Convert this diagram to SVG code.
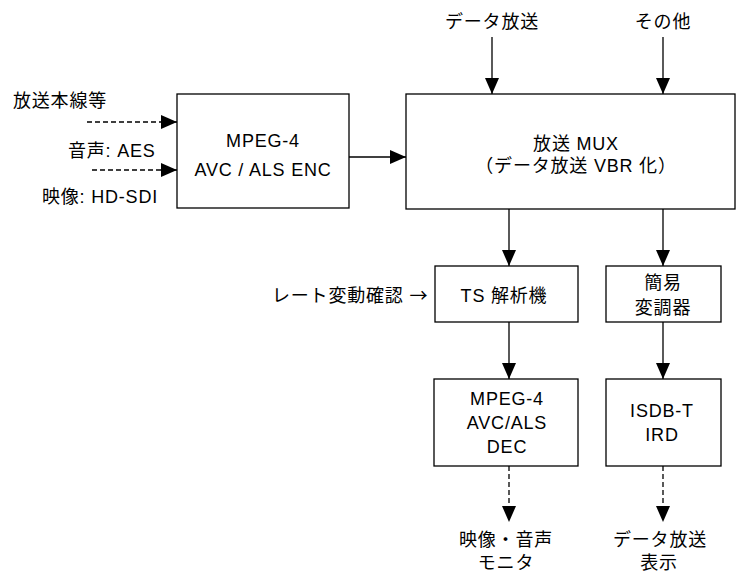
<svg xmlns="http://www.w3.org/2000/svg" width="739" height="572" viewBox="0 0 739 572">
<style>
text{font-family:"Liberation Sans","Noto Sans CJK JP",sans-serif;font-size:18px;letter-spacing:0.8px;fill:#000}
.c{text-anchor:middle}
.box{fill:#fff;stroke:#000;stroke-width:1.3}
.ln{fill:none;stroke:#000;stroke-width:1.3}
.d{stroke-dasharray:5 3}
.ar{font-family:"Noto Sans CJK JP",sans-serif}
</style>
<defs>
<marker id="ah" markerUnits="userSpaceOnUse" markerWidth="16" markerHeight="14" refX="16" refY="7" orient="auto">
<path d="M0,0 L16,7 L0,14 Z" fill="#000"/>
</marker>
</defs>
<g id="connectors">
<line class="ln d" x1="87" y1="122" x2="177" y2="122" marker-end="url(#ah)"/>
<line class="ln d" x1="92" y1="170" x2="177" y2="170" marker-end="url(#ah)"/>
<line class="ln" x1="349" y1="157" x2="406" y2="157" marker-end="url(#ah)"/>
<line class="ln" x1="492" y1="37" x2="492" y2="94" marker-end="url(#ah)"/>
<line class="ln" x1="663" y1="37" x2="663" y2="94" marker-end="url(#ah)"/>
<line class="ln" x1="509" y1="209" x2="509" y2="266" marker-end="url(#ah)"/>
<line class="ln" x1="663" y1="209" x2="663" y2="266" marker-end="url(#ah)"/>
<line class="ln" x1="509" y1="322" x2="509" y2="379" marker-end="url(#ah)"/>
<line class="ln" x1="663" y1="322" x2="663" y2="379" marker-end="url(#ah)"/>
<line class="ln d" x1="509" y1="466" x2="509" y2="522" marker-end="url(#ah)"/>
<line class="ln d" x1="663" y1="466" x2="663" y2="522" marker-end="url(#ah)"/>
</g>
<g id="labels">
<text x="13" y="107">放送本線等</text>
<text x="68" y="157">音声: AES</text>
<text x="42" y="203">映像: HD-SDI</text>
<text class="c" x="492" y="28">データ放送</text>
<text class="c" x="663" y="28">その他</text>
<text x="272" y="302">レート変動確認 <tspan class="ar">→</tspan></text>
<text class="c" x="506" y="546">映像・音声</text>
<text class="c" x="506" y="569">モニタ</text>
<text class="c" x="660" y="546">データ放送</text>
<text class="c" x="659" y="569">表示</text>
</g>
<g id="enc">
<rect class="box" x="177" y="94" width="172" height="114"/>
<text class="c" x="263" y="147">MPEG-4</text>
<text class="c" x="263" y="176">AVC / ALS ENC</text>
</g>
<g id="mux">
<rect class="box" x="406" y="94" width="329" height="115"/>
<text class="c" x="576" y="150">放送 MUX</text>
<text class="c" x="576" y="172">（データ放送 VBR 化）</text>
</g>
<g id="ts">
<rect class="box" x="435" y="266" width="143" height="56"/>
<text class="c" x="504" y="302">TS 解析機</text>
</g>
<g id="mod">
<rect class="box" x="606" y="266" width="115" height="56"/>
<text class="c" x="663" y="289">簡易</text>
<text class="c" x="663" y="314">変調器</text>
</g>
<g id="dec">
<rect class="box" x="434" y="379" width="144" height="87"/>
<text class="c" x="507" y="405">MPEG-4</text>
<text class="c" x="507" y="429">AVC/ALS</text>
<text class="c" x="507" y="453">DEC</text>
</g>
<g id="ird">
<rect class="box" x="606" y="379" width="115" height="87"/>
<text class="c" x="662" y="417">ISDB-T</text>
<text class="c" x="662" y="441">IRD</text>
</g>
</svg>
